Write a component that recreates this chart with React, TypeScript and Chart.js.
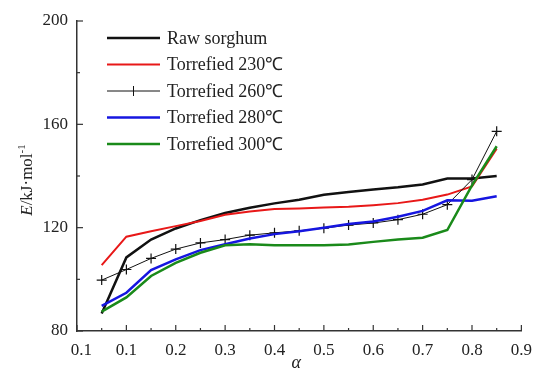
import React, { useEffect, useRef } from 'react';
import { Chart, registerables } from 'chart.js';

Chart.register(...registerables);

const alpha = [0.05, 0.1, 0.15, 0.2, 0.25, 0.3, 0.35, 0.4, 0.45, 0.5, 0.55, 0.6, 0.65, 0.7, 0.75, 0.8, 0.85];
const rawSorghum = [86.8, 108.5, 115.4, 119.7, 122.9, 125.7, 127.7, 129.4, 130.8, 132.7, 133.8, 134.8, 135.6, 136.7, 139.0, 139.0, 140.0];
const torrefied230 = [105.5, 116.5, 118.6, 120.6, 122.6, 125.0, 126.3, 127.2, 127.4, 127.8, 128.1, 128.7, 129.5, 130.8, 132.8, 136.0, 150.6];
const torrefied260 = [99.7, 103.8, 108.1, 111.7, 114.1, 115.4, 117.1, 118.0, 118.8, 119.8, 121.0, 121.8, 123.1, 125.2, 128.9, 138.6, 157.3];
const torrefied280 = [89.7, 94.8, 103.6, 107.7, 111.3, 113.6, 115.8, 117.5, 118.6, 120.0, 121.4, 122.4, 124.2, 126.5, 130.6, 130.4, 132.2];
const torrefied300 = [87.5, 93.0, 101.3, 106.4, 110.3, 113.2, 113.6, 113.2, 113.2, 113.2, 113.5, 114.5, 115.4, 116.1, 119.1, 136.4, 151.5];

const seriesLabels = ['Raw sorghum', 'Torrefied 230\u2103', 'Torrefied 260\u2103', 'Torrefied 280\u2103', 'Torrefied 300\u2103'];
const seriesColors = ['#111111', '#e81818', '#111111', '#1616e0', '#1a8a1a'];
const seriesWidths = [2.5, 2, 1, 2.5, 2.5];
const yLabelValues = [80, 120, 160, 200];

const FONT = '"Liberation Serif", "Times New Roman", serif';
const TEXT = '#222222';
const AXIS = '#333333';

const decorPlugin = {
  id: 'decor',
  afterDraw(chart: any) {
    const ctx = chart.ctx;
    const xs = chart.scales.x;
    const ys = chart.scales.y;
    const area = chart.chartArea;
    ctx.save();
    ctx.strokeStyle = AXIS;
    ctx.lineWidth = 1.2;
    xs.ticks.forEach((t: any) => {
      const px = xs.getPixelForValue(t.value);
      const major = Math.round(t.value * 100) % 10 === 0;
      const len = major ? 6 : 3;
      ctx.beginPath();
      ctx.moveTo(px, area.bottom);
      ctx.lineTo(px, area.bottom - len);
      ctx.stroke();
    });
    ys.ticks.forEach((t: any) => {
      const py = ys.getPixelForValue(t.value);
      const major = Math.round(t.value) % 40 === 0;
      const len = major ? 6 : 3;
      ctx.beginPath();
      ctx.moveTo(area.left, py);
      ctx.lineTo(area.left + len, py);
      ctx.stroke();
    });

    // legend
    const lx0 = area.left + 30;
    const lx1 = lx0 + 53;
    const tx = lx1 + 7;
    let ly = 38;
    ctx.font = `18px ${FONT}`;
    ctx.textBaseline = 'middle';
    ctx.textAlign = 'left';
    chart.data.datasets.forEach((ds: any) => {
      ctx.strokeStyle = ds.borderColor;
      ctx.lineWidth = ds.borderWidth;
      ctx.beginPath();
      ctx.moveTo(lx0, ly);
      ctx.lineTo(lx1, ly);
      ctx.stroke();
      if (ds.pointStyle === 'cross') {
        const cx = (lx0 + lx1) / 2;
        ctx.lineWidth = 1;
        ctx.beginPath();
        ctx.moveTo(cx, ly - 5);
        ctx.lineTo(cx, ly + 5);
        ctx.stroke();
      }
      ctx.fillStyle = TEXT;
      ctx.fillText(ds.label, tx, ly + 1);
      ly += 26.5;
    });

    // y title
    ctx.save();
    const cy = (area.top + area.bottom) / 2 + 4;
    ctx.translate(26, cy);
    ctx.rotate(-Math.PI / 2);
    ctx.fillStyle = TEXT;
    ctx.textBaseline = 'alphabetic';
    const partE = 'E';
    const partMid = '/kJ\u00b7mol';
    const partSup = '-1';
    ctx.font = `italic 17px ${FONT}`;
    const wE = ctx.measureText(partE).width;
    ctx.font = `17px ${FONT}`;
    const wMid = ctx.measureText(partMid).width;
    ctx.font = `11px ${FONT}`;
    const wSup = ctx.measureText(partSup).width;
    let sx = -(wE + wMid + wSup) / 2;
    ctx.textAlign = 'left';
    ctx.font = `italic 17px ${FONT}`;
    ctx.fillText(partE, sx, 6);
    sx += wE;
    ctx.font = `17px ${FONT}`;
    ctx.fillText(partMid, sx, 6);
    sx += wMid;
    ctx.font = `11px ${FONT}`;
    ctx.fillText(partSup, sx, -1);
    ctx.restore();

    // x title
    ctx.font = `italic 18px ${FONT}`;
    ctx.fillStyle = TEXT;
    ctx.textAlign = 'center';
    ctx.textBaseline = 'alphabetic';
    ctx.fillText('\u03b1', (area.left + area.right) / 2 - 3, 368);
    ctx.restore();
  },
};

const seriesValues = [rawSorghum, torrefied230, torrefied260, torrefied280, torrefied300];

export default function App() {
  const canvasRef = useRef<HTMLCanvasElement | null>(null);

  useEffect(() => {
    const canvas = canvasRef.current;
    if (!canvas) return;
    const datasets = seriesValues.map((vals, i) => ({
      label: seriesLabels[i],
      data: vals.map((v, j) => ({ x: alpha[j], y: v })),
      borderColor: seriesColors[i],
      backgroundColor: seriesColors[i],
      borderWidth: seriesWidths[i],
      pointStyle: i === 2 ? 'cross' : 'circle',
      pointRadius: i === 2 ? 5 : 0,
      pointBorderWidth: 1.2,
      pointBorderColor: seriesColors[i],
      tension: 0,
      fill: false,
      order: i === 0 ? 5 : 5 - i,
    }));

    const chart = new Chart(canvas, {
      type: 'line',
      data: { datasets },
      options: {
        animation: false,
        responsive: false,
        devicePixelRatio: 1,
        layout: { padding: { top: 21, right: 13, left: 0, bottom: 0 } },
        plugins: { legend: { display: false }, tooltip: { enabled: false } },
        scales: {
          x: {
            type: 'linear',
            min: 0,
            max: 0.9,
            grid: { display: false, drawTicks: false },
            border: { display: true, color: AXIS, width: 1.5 },
            ticks: {
              stepSize: 0.05,
              autoSkip: false,
              maxRotation: 0,
              padding: 9,
              color: TEXT,
              font: { family: FONT, size: 17 },
              callback: (v: any) => {
                const n = Number(v);
                if (Math.abs(n) < 1e-9) return '\u00a0\u00a00.1';
                if (Math.round(n * 100) % 10 !== 0) return '';
                return n.toFixed(1);
              },
            },
            afterFit: (s: any) => {
              s.height = 41;
            },
          },
          y: {
            type: 'linear',
            min: 80,
            max: 200,
            grid: { display: false, drawTicks: false },
            border: { display: true, color: AXIS, width: 1.5 },
            ticks: {
              stepSize: 20,
              autoSkip: false,
              padding: 9,
              color: TEXT,
              font: { family: FONT, size: 17 },
              callback: (v: any) => (yLabelValues.includes(Number(v)) ? String(v) : ''),
            },
            afterFit: (s: any) => {
              s.width = 77;
            },
          },
        },
      },
      plugins: [decorPlugin],
    });
    return () => chart.destroy();
  }, []);

  return (
    <div style={{ position: 'absolute', left: 0, top: 0, width: 541, height: 372, background: '#ffffff' }}>
      <canvas ref={canvasRef} width={541} height={372} style={{ display: 'block', width: 541, height: 372 }} />
    </div>
  );
}
